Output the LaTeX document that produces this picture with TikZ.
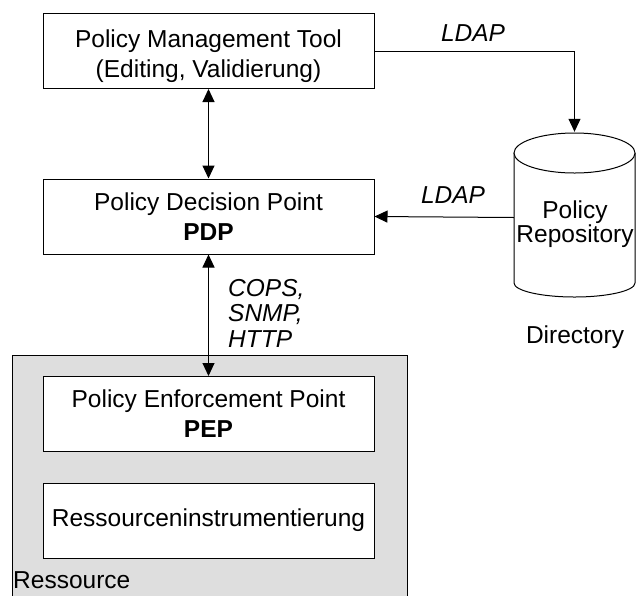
\documentclass[tikz,border=0pt]{standalone}
\usepackage{fontspec}
\setmainfont{Liberation Sans}
\usetikzlibrary{arrows.meta}
\tikzset{
  x=1pt, y=-1pt,
  every node/.style={font=\fontsize{24.5}{30}\selectfont, inner sep=0pt},
  box/.style={draw=black, fill=white, line width=1pt, minimum width=331pt, minimum height=75pt, align=center},
  arr/.style={line width=1pt, -{Triangle[length=13pt,width=12pt]}},
  darr/.style={line width=1pt, {Triangle[length=13pt,width=12pt]}-{Triangle[length=13pt,width=12pt]}},
  lbl/.style={font=\fontsize{24.5}{25.5}\selectfont\itshape, align=left},
}
\begin{document}
\begin{tikzpicture}
\useasboundingbox[fill=white] (0,0) rectangle (636,595);
% Ressource container
\draw[line width=1pt, fill=black!13] (12,355) rectangle (407,620);
\node[anchor=base west] (ress) at (13,588) {Ressource};
% boxes
\node[box] (pmt) at (208.5,51) {\raisebox{-5pt}[\height][\depth]{\begin{tabular}{@{}c@{}}Policy Management Tool\\(Editing, Validierung)\end{tabular}}};
\node[box] (pdp) at (208.5,216.5) {Policy Decision Point\\\textbf{PDP}};
\node[box] (pep) at (208.5,414) {Policy Enforcement Point\\\textbf{PEP}};
\node[box] (ri) at (208.5,520.5) {Ressourceninstrumentierung};
% cylinder repository
\node[minimum width=121pt, minimum height=171pt] (repo) at (574.5,217.5) {};
\draw[line width=1pt, fill=white] (514,153) -- (514,283) arc[start angle=180, end angle=360, x radius=60.5pt, y radius=14pt] -- (635,153);
\draw[line width=1pt, fill=white] (574.5,153) ellipse[x radius=60.5pt, y radius=20pt];
\node[font=\fontsize{24.5}{24}\selectfont, align=center] (repotext) at (575,224) {Policy\\Repository};
\node[anchor=base] (dir) at (575,343) {Directory};
% connectors
\draw[darr] (pmt) -- (pdp);
\draw[darr] (pdp) -- (pep);
\draw[arr] (pmt.east) -| (repo.north);
\draw[arr] (repo.west) -- (pdp.east);
% labels
\node[lbl] (l1) at (473,33) {LDAP};
\node[lbl] (l2) at (453,195) {LDAP};
\node[lbl, anchor=west] (l3) at (228,313) {COPS,\\SNMP,\\HTTP};
\end{tikzpicture}
\end{document}
